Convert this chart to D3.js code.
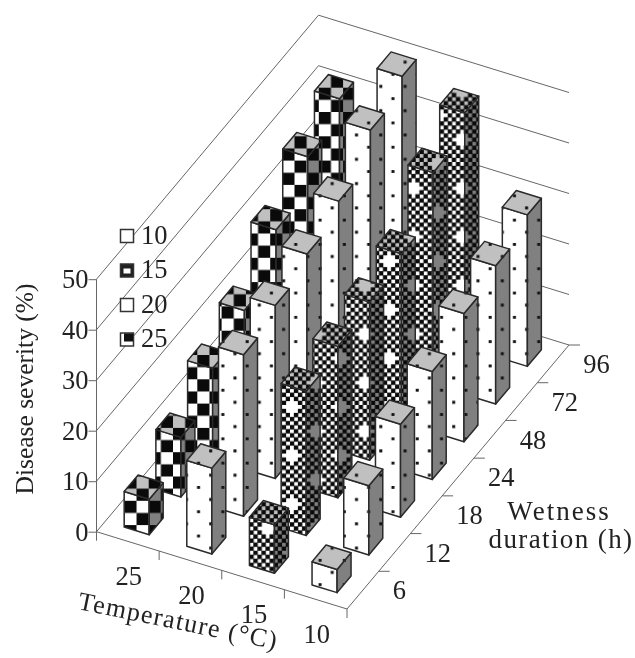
<!DOCTYPE html>
<html>
<head>
<meta charset="utf-8">
<script src="https://cdn.jsdelivr.net/npm/d3@7"></script>
<style>
  html, body { margin: 0; background: #fff; }
  svg { display: block; filter: blur(0.35px); }
  text { font-family: "Liberation Serif", serif; fill: #222; }
</style>
</head>
<body>
<div class="js-chart"></div>
<script>
const temperatures = ["25", "20", "15", "10"];
const durations = ["6", "12", "18", "24", "48", "72", "96"];
const severityTicks = [0, 10, 20, 30, 40, 50];
const legendLabels = ["10", "15", "20", "25"];

const severity25 = [7, 11.8, 18, 22, 30.5, 37.5, 41.5];
const severity20 = [17, 32, 34.3, 37, 40, 46.6, 49.8];
const severity15 = [9.6, 28.6, 30, 31.3, 33.4, 42, 46.4];
const severity10 = [4.6, 13.7, 18.4, 21.4, 25.4, 27.4, 30];

const severityByTemp = {"25": severity25, "20": severity20, "15": severity15, "10": severity10};
const fillByTemp = {"25": "coarse", "20": "dots", "15": "fine", "10": "dots"};

const width = 635
    , height = 658
    ;

// corners of the floor, picked off the oblique view
const origin = [96.5, 531.7]
    , frontCorner = [347, 609]
    , rightCorner = [569, 345]
    ;
const tempVec = [frontCorner[0] - origin[0], frontCorner[1] - origin[1]]
    , durVec = [rightCorner[0] - frontCorner[0], rightCorner[1] - frontCorner[1]]
    ;

const tempScale = d3.scaleBand().domain(temperatures).range([0, 1])
  .paddingInner(0.6).paddingOuter(0.3);
const durScale = d3.scaleBand().domain(durations).range([0, 1])
  .paddingInner(0.56).paddingOuter(0.28);
const zScale = d3.scaleLinear().domain([0, 50]).range([531.7, 279.2]);

function project(t, d, v) {
  return [
    origin[0] + t * tempVec[0] + d * durVec[0],
    origin[1] + t * tempVec[1] + d * durVec[1] + zScale(v) - zScale(0)
  ];
}

const svg = d3.select(".js-chart")
  .append("svg")
  .attr("width", width)
  .attr("height", height);

const defs = svg.append("defs");

const shades = {front: "#fff", side: "#808080", top: "#c0c0c0"};

function addDots(name, bg) {
  const p = defs.append("pattern")
    .attr("id", `dots-${name}`)
    .attr("patternUnits", "userSpaceOnUse")
    .attr("width", 24.3)
    .attr("height", 24.3);
  p.append("rect").attr("width", 24.3).attr("height", 24.3).attr("fill", bg);
  [[16.3, 13.5], [4.15, 1.35]].forEach(c => {
    p.append("rect")
      .attr("x", c[0] - 1.5).attr("y", c[1] - 1.5)
      .attr("width", 3).attr("height", 3)
      .attr("fill", "#111");
  });
}

function addCoarse(name, bg) {
  const s = 12.15;
  const p = defs.append("pattern")
    .attr("id", `coarse-${name}`)
    .attr("patternUnits", "userSpaceOnUse")
    .attr("patternTransform", "translate(2.9,14.8)")
    .attr("width", 2 * s)
    .attr("height", 2 * s);
  p.append("rect").attr("width", 2 * s).attr("height", 2 * s).attr("fill", bg);
  p.append("rect").attr("width", s).attr("height", s).attr("fill", "#0a0a0a");
  p.append("rect").attr("x", s).attr("y", s).attr("width", s).attr("height", s).attr("fill", "#0a0a0a");
}

// fine checker, with the plus shaped gaps the scan left every six cells
function addFine(name, bg) {
  const s = 4.05, n = 12;
  const p = defs.append("pattern")
    .attr("id", `fine-${name}`)
    .attr("patternUnits", "userSpaceOnUse")
    .attr("patternTransform", "translate(289.975,404.975)")
    .attr("width", n * s)
    .attr("height", n * s);
  p.append("rect").attr("width", n * s).attr("height", n * s).attr("fill", bg);
  const isGap = (i, j) => [[0, 0], [6, 6]].some(c => {
    const di = Math.min((i - c[0] + n) % n, (c[0] - i + n) % n)
        , dj = Math.min((j - c[1] + n) % n, (c[1] - j + n) % n)
        ;
    return di + dj <= 1;
  });
  const cells = d3.cross(d3.range(n), d3.range(n))
    .filter(c => (c[0] + c[1]) % 2 == 1 && !isGap(c[0], c[1]));
  p.selectAll("rect.cell")
    .data(cells)
    .join("rect")
    .attr("class", "cell")
    .attr("x", c => c[0] * s - 0.2)
    .attr("y", c => c[1] * s - 0.2)
    .attr("width", s + 0.4)
    .attr("height", s + 0.4)
    .attr("fill", "#0a0a0a");
}

Object.keys(shades).forEach(k => {
  addDots(k, shades[k]);
  addCoarse(k, shades[k]);
  addFine(k, shades[k]);
});

// walls
const grid = svg.append("g")
  .attr("fill", "none")
  .attr("stroke", "#666")
  .attr("stroke-width", 1);

grid.selectAll("path")
  .data(severityTicks)
  .join("path")
  .attr("d", v => d3.line()([project(0, 0, v), project(0, 1, v), project(1, 1, v)]));

grid.append("path").attr("d", d3.line()([origin, frontCorner, rightCorner]));

// z axis
const zAxis = d3.axisLeft(zScale)
  .tickValues(severityTicks)
  .tickSize(8)
  .tickPadding(0);

const zG = svg.append("g")
  .attr("transform", `translate(${origin[0]},0)`)
  .call(zAxis);
zG.selectAll("path, line").attr("stroke", "#666");
zG.selectAll("text").attr("font-size", 26.5).attr("font-family", "Liberation Serif").attr("fill", "#222");
zG.select("path.domain").remove();
zG.append("line")
  .attr("y1", zScale(50)).attr("y2", zScale(0) + 9)
  .attr("stroke", "#666");

// floor ticks
const edgeTicks = svg.append("g").attr("stroke", "#666");
edgeTicks.selectAll("line.temp")
  .data(d3.range(1, temperatures.length + 1))
  .join("line")
  .attr("class", "temp")
  .attr("x1", i => project(i / temperatures.length, 0, 0)[0])
  .attr("x2", i => project(i / temperatures.length, 0, 0)[0])
  .attr("y1", i => project(i / temperatures.length, 0, 0)[1])
  .attr("y2", i => project(i / temperatures.length, 0, 0)[1] + 9);
edgeTicks.selectAll("line.dur")
  .data(d3.range(1, durations.length + 1))
  .join("line")
  .attr("class", "dur")
  .attr("x1", j => project(1, j / durations.length, 0)[0])
  .attr("x2", j => project(1, j / durations.length, 0)[0] + 11)
  .attr("y1", j => project(1, j / durations.length, 0)[1])
  .attr("y2", j => project(1, j / durations.length, 0)[1]);

// bars, back rows first so the nearer ones paint over them
const bars = [];
durations.slice().reverse().forEach(dur => {
  temperatures.forEach(temp => {
    bars.push({temp, dur, value: severityByTemp[temp][durations.indexOf(dur)]});
  });
});

const barG = svg.append("g")
  .selectAll("g")
  .data(bars)
  .join("g")
  .attr("stroke", "#2a2a2a")
  .attr("stroke-width", 1.5)
  .attr("stroke-linejoin", "round");

function corners(d) {
  const t0 = tempScale(d.temp), t1 = t0 + tempScale.bandwidth()
      , d0 = durScale(d.dur), d1 = d0 + durScale.bandwidth()
      ;
  return {t0, t1, d0, d1};
}

barG.append("path")
  .attr("fill", d => `url(#${fillByTemp[d.temp]}-front)`)
  .attr("d", d => {
    const c = corners(d);
    return d3.line()([project(c.t0, c.d0, 0), project(c.t1, c.d0, 0), project(c.t1, c.d0, d.value), project(c.t0, c.d0, d.value)]) + "Z";
  });

barG.append("path")
  .attr("fill", d => `url(#${fillByTemp[d.temp]}-side)`)
  .attr("d", d => {
    const c = corners(d);
    return d3.line()([project(c.t1, c.d0, 0), project(c.t1, c.d1, 0), project(c.t1, c.d1, d.value), project(c.t1, c.d0, d.value)]) + "Z";
  });

barG.append("path")
  .attr("fill", d => `url(#${fillByTemp[d.temp]}-top)`)
  .attr("d", d => {
    const c = corners(d);
    return d3.line()([project(c.t0, c.d0, d.value), project(c.t1, c.d0, d.value), project(c.t1, c.d1, d.value), project(c.t0, c.d1, d.value)]) + "Z";
  });

// category labels
svg.append("g")
  .selectAll("text")
  .data(temperatures)
  .join("text")
  .attr("font-size", 26.5)
  .attr("text-anchor", "middle")
  .attr("dy", "0.35em")
  .attr("x", t => project(tempScale(t) + tempScale.bandwidth() / 2, 0, 0)[0] + 1)
  .attr("y", t => project(tempScale(t) + tempScale.bandwidth() / 2, 0, 0)[1] + 34)
  .text(t => t);

svg.append("g")
  .selectAll("text")
  .data(durations)
  .join("text")
  .attr("font-size", 26.5)
  .attr("dy", "0.35em")
  .attr("x", d => project(1, durScale(d) + durScale.bandwidth() / 2, 0)[0] + 30)
  .attr("y", d => project(1, durScale(d) + durScale.bandwidth() / 2, 0)[1])
  .text(d => d);

// axis titles
svg.append("text")
  .attr("font-size", 25.5)
  .attr("text-anchor", "middle")
  .attr("transform", "translate(33,389) rotate(-90)")
  .text("Disease severity (%)");

svg.append("text")
  .attr("font-size", 26)
  .attr("letter-spacing", 1.3)
  .attr("transform", "translate(77,609) rotate(11.5)")
  .text("Temperature (°C)");

svg.append("text")
  .attr("font-size", 27)
  .attr("letter-spacing", 2)
  .attr("text-anchor", "middle")
  .attr("x", 559)
  .attr("y", 520)
  .text("Wetness");

svg.append("text")
  .attr("font-size", 27)
  .attr("letter-spacing", 1.4)
  .attr("text-anchor", "middle")
  .attr("x", 561)
  .attr("y", 548)
  .text("duration (h)");

// legend
const legendY = d3.scalePoint().domain(legendLabels).range([236, 339.5]);

const legend = svg.append("g")
  .selectAll("g")
  .data(legendLabels)
  .join("g")
  .attr("transform", l => `translate(127,${legendY(l)})`);

legend.append("rect")
  .attr("x", -6.5).attr("y", -6.5)
  .attr("width", 13).attr("height", 13)
  .attr("fill", l => l == "15" ? "#222" : "#fff")
  .attr("stroke", "#333")
  .attr("stroke-width", 1.5);

legend.filter(l => l == "15").append("rect")
  .attr("x", -3.5).attr("y", -2)
  .attr("width", 7).attr("height", 5)
  .attr("fill", "#fff");

legend.filter(l => l == "25").append("rect")
  .attr("x", -3).attr("y", -6)
  .attr("width", 9).attr("height", 8)
  .attr("fill", "#111");

legend.append("text")
  .attr("font-size", 26.5)
  .attr("x", 14)
  .attr("dy", "0.3em")
  .text(l => l);
</script>
</body>
</html>
